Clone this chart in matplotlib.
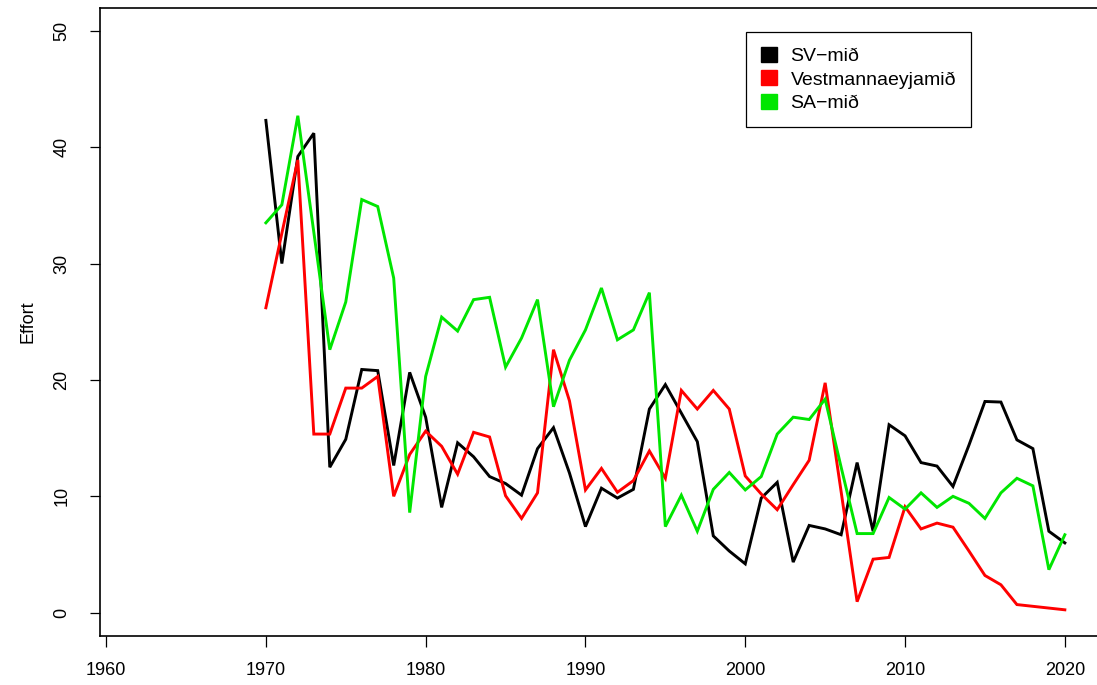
import matplotlib
matplotlib.use("Agg")
import matplotlib.pyplot as plt
from matplotlib.patches import Patch

years = list(range(1970, 2021))

sv_mid = [42.3, 30.0, 39.2, 41.2, 12.5, 14.9, 20.9, 20.8, 12.65, 20.65,
          16.8, 9.05, 14.6, 13.4, 11.7, 11.1, 10.1, 14.1, 15.9, 12.0,
          7.4, 10.7, 9.85, 10.6, 17.5, 19.6, 17.15, 14.7, 6.6, 5.3,
          4.2, 9.85, 11.2, 4.35, 7.5, 7.2, 6.7, 12.9, 7.0, 16.15,
          15.2, 12.9, 12.6, 10.85, 14.4, 18.15, 18.1, 14.85, 14.1, 7.0,
          6.0]

vestm = [26.2, 32.6, 38.9, 15.35, 15.35, 19.3, 19.3, 20.3, 10.0, 13.6,
         15.6, 14.3, 11.9, 15.5, 15.1, 10.05, 8.1, 10.3, 22.6, 18.2,
         10.55, 12.4, 10.35, 11.35, 13.9, 11.55, 19.1, 17.5, 19.1, 17.5,
         11.75, 10.2, 8.85, 11.0, 13.1, 19.75, 10.4, 0.95, 4.6, 4.75,
         9.1, 7.2, 7.7, 7.35, 5.3, 3.2, 2.4, 0.7, 0.55, 0.4,
         0.25]

sa_mid = [33.5, 35.05, 42.7, 32.7, 22.6, 26.7, 35.5, 34.9, 28.75, 8.6,
          20.3, 25.4, 24.2, 26.9, 27.1, 21.1, 23.6, 26.9, 17.7, 21.7,
          24.3, 27.9, 23.45, 24.3, 27.5, 7.4, 10.1, 7.0, 10.6, 12.05,
          10.55, 11.7, 15.35, 16.8, 16.6, 18.35, 12.5, 6.8, 6.8, 9.9,
          8.9, 10.3, 9.05, 10.0, 9.4, 8.1, 10.3, 11.55, 10.9, 3.7,
          6.7]

series_names = ["SV\u2212mið", "Vestmannaeyjamið", "SA\u2212mið"]
series_colors = ["#000000", "#FF0000", "#00E600"]
x_ticks = [1960, 1970, 1980, 1990, 2000, 2010, 2020]
y_ticks = [0, 10, 20, 30, 40, 50]

plt.rcParams['font.family'] = ['Liberation Sans', 'DejaVu Sans']

W, H = 1097, 685
fig = plt.figure(figsize=(W / 100, H / 100), dpi=100)
left_px, right_px, top_px, bottom_px = 100, 1100, 7.5, 636
ax = fig.add_axes([left_px / W, 1 - bottom_px / H,
                   (right_px - left_px) / W, (bottom_px - top_px) / H])

for vals, name, col in zip([sv_mid, vestm, sa_mid], series_names, series_colors):
    ax.plot(years, vals, color=col, lw=2.1, label=name, solid_joinstyle='miter')

ax.set_xlim(1959.62, 2022.2)
ax.set_ylim(-2, 52)
ax.set_xticks(x_ticks)
ax.set_yticks(y_ticks)
ax.set_xticklabels([str(t) for t in x_ticks], fontsize=13)
ax.set_yticklabels([str(t) for t in y_ticks], fontsize=13, rotation=90, va='center')
ax.tick_params(axis='x', length=8, width=0.9, pad=11, direction='out')
ax.tick_params(axis='y', length=7.5, width=0.9, pad=14, direction='out')
for s in ax.spines.values():
    s.set_linewidth(1.2)

fig.text(28 / W, 1 - 322 / H, "Effort", rotation=90, ha='center', va='center', fontsize=13)

handles = [Patch(facecolor=c, edgecolor=c, label=n) for n, c in zip(series_names, series_colors)]
leg = ax.legend(handles=handles, loc='upper left',
                bbox_to_anchor=(746 / W, 1 - 32 / H), bbox_transform=fig.transFigure,
                fontsize=14, borderpad=0.75, handlelength=0.82, handleheight=0.82,
                handletextpad=0.72, labelspacing=0.28, fancybox=False,
                framealpha=1, edgecolor='black', borderaxespad=0)
leg.get_frame().set_linewidth(0.9)

fig.savefig("out.png", dpi=100)
